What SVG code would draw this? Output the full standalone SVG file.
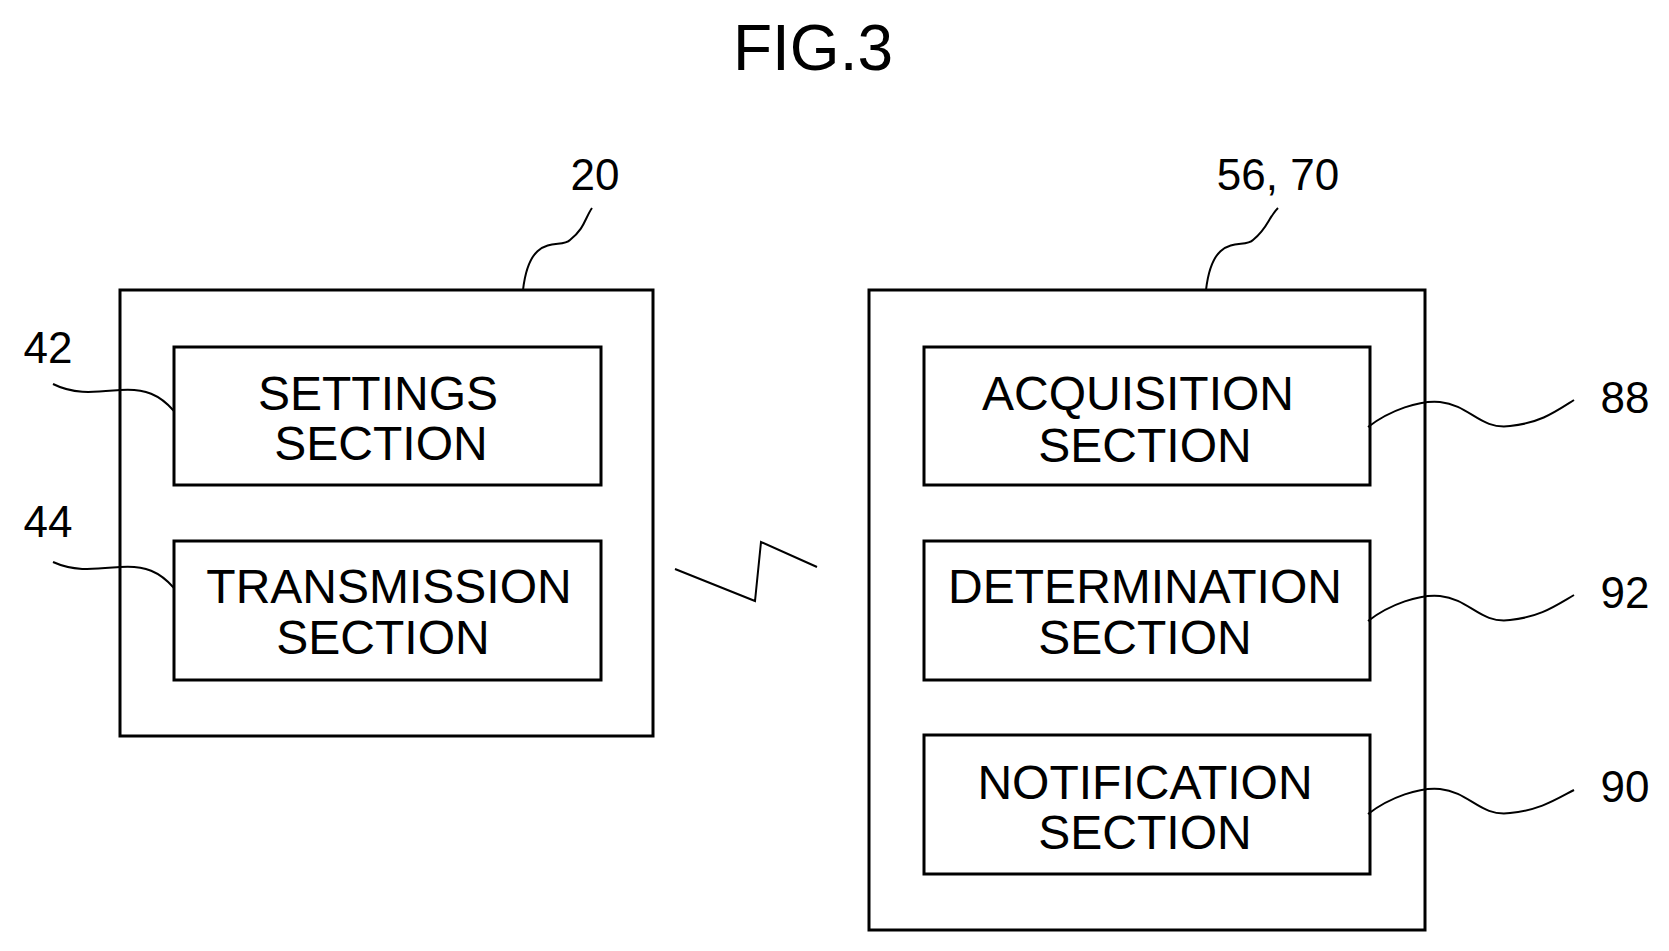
<svg xmlns="http://www.w3.org/2000/svg" width="1669" height="951" viewBox="0 0 1669 951">
<style>
.box{fill:none;stroke:#000;stroke-width:3}
path{fill:none;stroke:#000;stroke-width:2}
text{font-family:"Liberation Sans",Arial,sans-serif;fill:#000;text-anchor:middle;dominant-baseline:central}
.b{font-size:48px}
.l{font-size:44px}
</style>
<rect width="1669" height="951" fill="#fff"/>
<text x="813" y="48" font-size="64">FIG.3</text>
<g id="n20"><rect class="box" x="120" y="290" width="533" height="446"/><text class="l" x="595" y="174">20</text></g>
<g id="n42"><rect class="box" x="174" y="347" width="427" height="138"/><text class="b" x="378" y="393">SETTINGS</text><text class="b" x="381" y="443">SECTION</text><text class="l" x="48" y="347">42</text></g>
<g id="n44"><rect class="box" x="174" y="541" width="427" height="139"/><text class="b" x="389" y="586">TRANSMISSION</text><text class="b" x="383" y="637">SECTION</text><text class="l" x="48" y="521">44</text></g>
<g id="n56"><rect class="box" x="869" y="290" width="556" height="640"/><text class="l" x="1278" y="174">56, 70</text></g>
<g id="n88"><rect class="box" x="924" y="347" width="446" height="138"/><text class="b" x="1138" y="393">ACQUISITION</text><text class="b" x="1145" y="445">SECTION</text><text class="l" x="1625" y="397">88</text></g>
<g id="n92"><rect class="box" x="924" y="541" width="446" height="139"/><text class="b" x="1145" y="586">DETERMINATION</text><text class="b" x="1145" y="637">SECTION</text><text class="l" x="1625" y="592">92</text></g>
<g id="n90"><rect class="box" x="924" y="735" width="446" height="139"/><text class="b" x="1145" y="782">NOTIFICATION</text><text class="b" x="1145" y="832">SECTION</text><text class="l" x="1625" y="786">90</text></g>
<g id="connectors">
<path d="M523,290 C530,230 560,250 570,240 C585,228 585,218 592,208"/>
<path d="M1206,290 C1213,230 1243,250 1253,240 C1268,228 1268,218 1278,208"/>
<path d="M174,411 C160,395 145,388 120,390 C95,392 75,395 53,384"/>
<path d="M174,588 C160,572 145,565 120,567 C95,569 75,572 53,562"/>
<path d="M1368,427 C1390,410 1420,400 1440,402 C1470,405 1480,430 1510,426 C1540,423 1555,412 1574,400"/>
<path d="M1368,621 C1390,604 1420,594 1440,596 C1470,599 1480,624 1510,620 C1540,617 1555,606 1574,595"/>
<path d="M1368,814 C1390,797 1420,787 1440,789 C1470,792 1480,817 1510,813 C1540,810 1555,800 1574,790"/>
<path d="M675,569 L755,601 L761,542 L817,567" stroke-width="3"/>
</g>
</svg>
